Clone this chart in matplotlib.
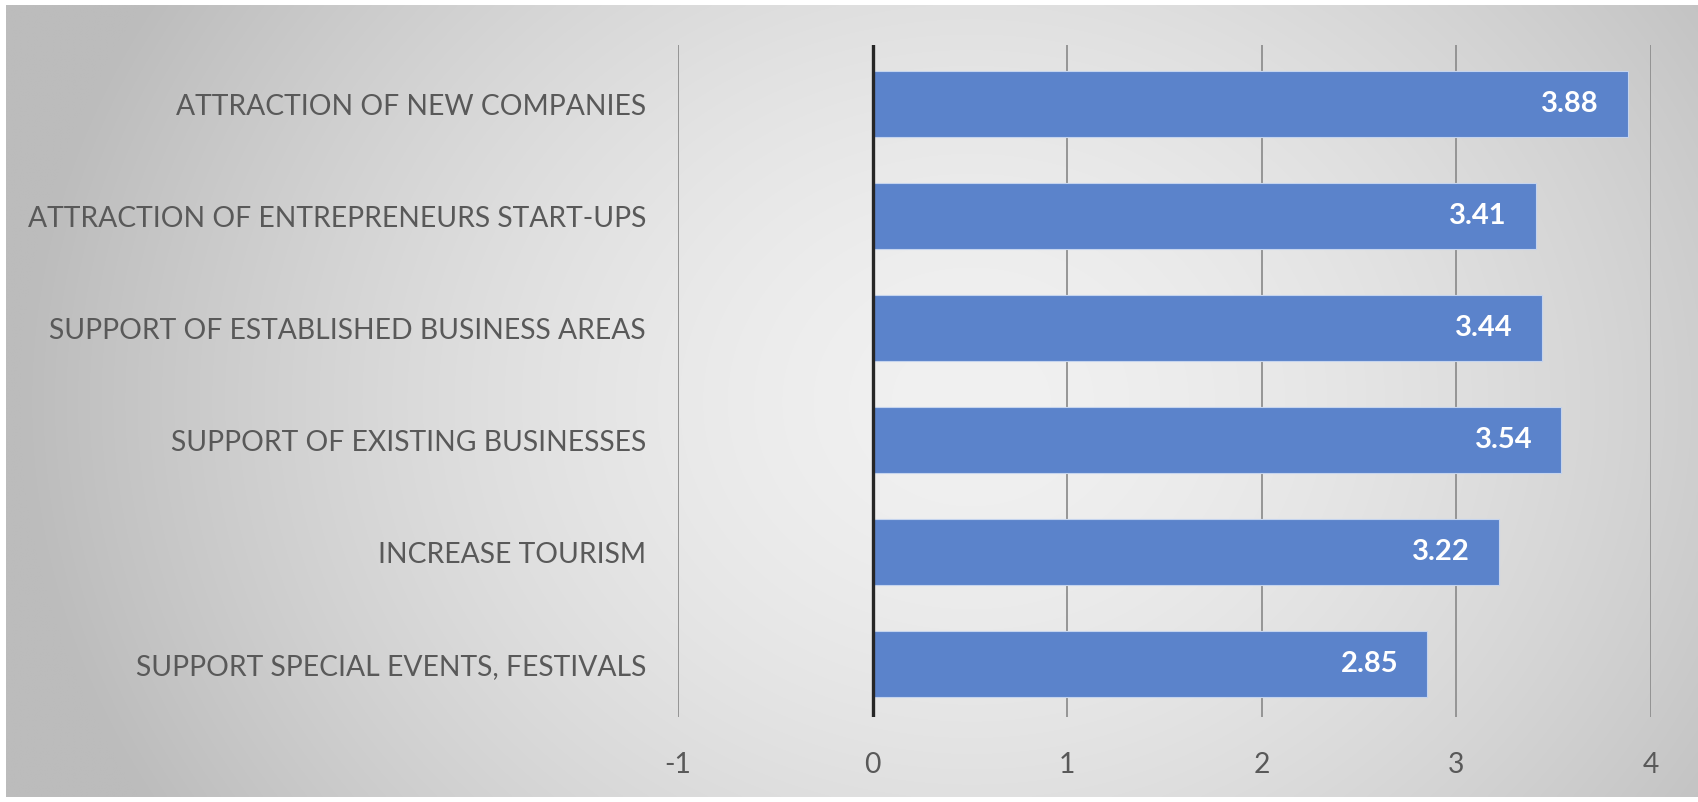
import matplotlib.pyplot as plt
import numpy as np

categories = [
    "SUPPORT SPECIAL EVENTS, FESTIVALS",
    "INCREASE TOURISM",
    "SUPPORT OF EXISTING BUSINESSES",
    "SUPPORT OF ESTABLISHED BUSINESS AREAS",
    "ATTRACTION OF ENTREPRENEURS START-UPS",
    "ATTRACTION OF NEW COMPANIES",
]
scores = [2.85, 3.22, 3.54, 3.44, 3.41, 3.88]
x_ticks = [-1, 0, 1, 2, 3, 4]

font = ['Lato', 'DejaVu Sans']
text_color = '#595959'
bar_color = '#5B83CB'

fig = plt.figure(figsize=(16.98, 8.02), dpi=100)
fig.patch.set_facecolor('white')

# soft radial grey backdrop behind the chart
bg = fig.add_axes([6 / 1698, 5 / 802, 1692 / 1698, 792 / 802])
h, w = 400, 850
yy, xx = np.mgrid[0:h, 0:w]
dx = (xx - w * 0.57) / (w * 0.5)
dy = (yy - h * 0.5) / (h * 0.5)
r = np.sqrt(dx ** 2 + (0.55 * dy) ** 2)
shade = np.clip(241 - 44 * r ** 1.6, 188, 241) / 255.0
bg.imshow(np.dstack([shade] * 3), aspect='auto', extent=[0, 1, 0, 1], interpolation='bilinear')
bg.axis('off')

ax = fig.add_axes([678 / 1698, 85 / 802, 973 / 1698, 672 / 802])
ax.patch.set_alpha(0)

y = np.arange(len(categories))
bars = ax.barh(y, scores, height=0.59, color=bar_color, edgecolor='#c5d4ee', linewidth=0.8, zorder=3)

for b, v in zip(bars, scores):
    ax.text(b.get_width() - 0.15, b.get_y() + b.get_height() / 2, f"{v:.2f}",
            ha='right', va='center', color='white', fontsize=21, fontweight='bold',
            family=font, zorder=4)

ax.set_xlim(-1, 4)
ax.set_ylim(-0.47, len(categories) - 0.47)
ax.set_xticks(x_ticks)
ax.set_xticklabels([str(t) for t in x_ticks])
ax.set_yticks(y)
ax.set_yticklabels(categories)

for t in x_ticks:
    if t == 0:
        ax.axvline(t, color='#262626', linewidth=2.4, zorder=5)
    else:
        ax.axvline(t, color='#8f8f8f', linewidth=1.3, zorder=1)

for s in ax.spines.values():
    s.set_visible(False)
ax.tick_params(axis='both', length=0, colors=text_color)
ax.tick_params(axis='x', pad=25)
ax.tick_params(axis='y', pad=23)
for lab in ax.get_xticklabels() + ax.get_yticklabels():
    lab.set_family(font)
    lab.set_fontsize(20.3)
    lab.set_color(text_color)

fig.savefig('out.png', dpi=100)
